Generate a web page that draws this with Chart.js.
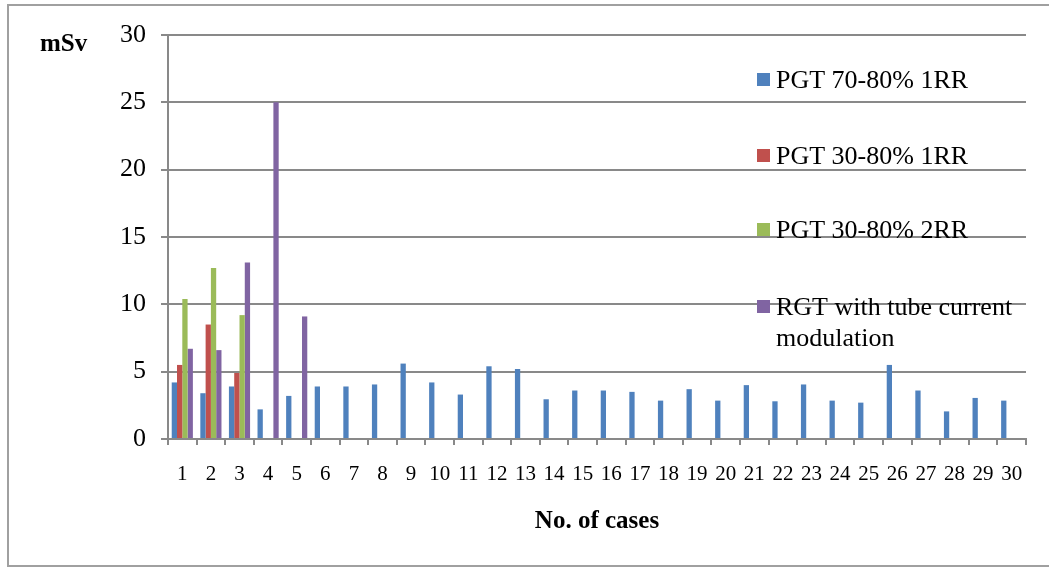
<!DOCTYPE html>
<html>
<head>
<meta charset="utf-8">
<script src="https://cdn.jsdelivr.net/npm/chart.js@4"></script>
<style>
  body { margin: 0; background: #fff; }
  canvas { display: block; }
</style>
</head>
<body>
<canvas id="doseChart" width="1049" height="569"></canvas>
<script>
// No. of cases 1..30
const cases = ['1','2','3','4','5','6','7','8','9','10','11','12','13','14','15',
               '16','17','18','19','20','21','22','23','24','25','26','27','28','29','30'];

// effective dose in mSv
const pgt7080_1rr = [4.2, 3.4, 3.9, 2.2, 3.2, 3.9, 3.9, 4.05, 5.6, 4.2,
                     3.3, 5.4, 5.2, 2.95, 3.6, 3.6, 3.5, 2.85, 3.7, 2.85,
                     4.0, 2.8, 4.05, 2.85, 2.7, 5.5, 3.6, 2.05, 3.05, 2.85];
const pgt3080_1rr = [5.5, 8.5, 4.9];
const pgt3080_2rr = [10.4, 12.7, 9.2];
const rgtTcm = [6.7, 6.6, 13.1, 25, 9.1];

const seriesNames = ['PGT 70-80% 1RR', 'PGT 30-80% 1RR', 'PGT 30-80% 2RR',
                     ['RGT with tube current', 'modulation']];
const seriesColors = ['#4F81BD', '#C0504D', '#9BBB59', '#8064A2'];

const yTicks = [0, 5, 10, 15, 20, 25, 30];

const serif = '"Liberation Serif", "Times New Roman", serif';
const gray = '#898989';

// frame, "mSv" label and the Excel-style legend
const extras = {
    id: 'extras',
    beforeDraw(chart) {
        const ctx = chart.ctx;
        ctx.save();
        ctx.strokeStyle = '#a0a0a0';
        ctx.lineWidth = 2;
        ctx.strokeRect(8, 5, 1100, 561);
        ctx.restore();
    },
    afterDraw(chart) {
        const ctx = chart.ctx;
        ctx.save();
        ctx.fillStyle = '#000';
        ctx.font = 'bold 25px ' + serif;
        ctx.textBaseline = 'middle';
        ctx.textAlign = 'left';
        ctx.fillText('mSv', 40, 45);

        const rowsY = [80, 156, 230, 307];
        ctx.font = '26px ' + serif;
        seriesNames.forEach((name, i) => {
            const y = rowsY[i];
            ctx.fillStyle = seriesColors[i];
            ctx.fillRect(757, y - 7, 13, 13);
            ctx.fillStyle = '#000';
            const lines = Array.isArray(name) ? name : [name];
            lines.forEach((t, j) => ctx.fillText(t, 776, y + 1 + j * 31));
        });
        ctx.restore();
    }
};

const datasets = [pgt7080_1rr, pgt3080_1rr, pgt3080_2rr, rgtTcm].map((d, i) => ({
    label: Array.isArray(seriesNames[i]) ? seriesNames[i].join(' ') : seriesNames[i],
    data: d,
    backgroundColor: seriesColors[i],
    borderWidth: 0,
    categoryPercentage: 0.74,
    barPercentage: 1.0
}));

new Chart(document.getElementById('doseChart'), {
    type: 'bar',
    data: { labels: cases, datasets: datasets },
    options: {
        responsive: false,
        animation: false,
        layout: { padding: { left: 0, top: 35, right: 23, bottom: 0 } },
        plugins: {
            legend: { display: false },
            tooltip: { enabled: false }
        },
        scales: {
            x: {
                afterFit: s => { s.height = 130; },
                grid: {
                    offset: true,
                    drawOnChartArea: false,
                    drawTicks: true,
                    tickLength: 6,
                    color: gray,
                    lineWidth: 2
                },
                border: { color: gray, width: 2 },
                ticks: {
                    color: '#000',
                    font: { family: serif, size: 21 },
                    padding: 17,
                    maxRotation: 0,
                    autoSkip: false
                },
                title: {
                    display: true,
                    text: 'No. of cases',
                    color: '#000',
                    font: { family: serif, size: 25, weight: 'bold' },
                    padding: { top: 0, bottom: 32 }
                }
            },
            y: {
                min: 0,
                max: 30,
                afterFit: s => { s.width = 168; },
                afterBuildTicks: s => { s.ticks = yTicks.map(v => ({ value: v })); },
                grid: {
                    color: gray,
                    lineWidth: 2,
                    tickLength: 7
                },
                border: { color: gray, width: 2 },
                ticks: {
                    color: '#000',
                    font: { family: serif, size: 26 },
                    padding: 15
                }
            }
        }
    },
    plugins: [extras]
});
</script>
</body>
</html>
